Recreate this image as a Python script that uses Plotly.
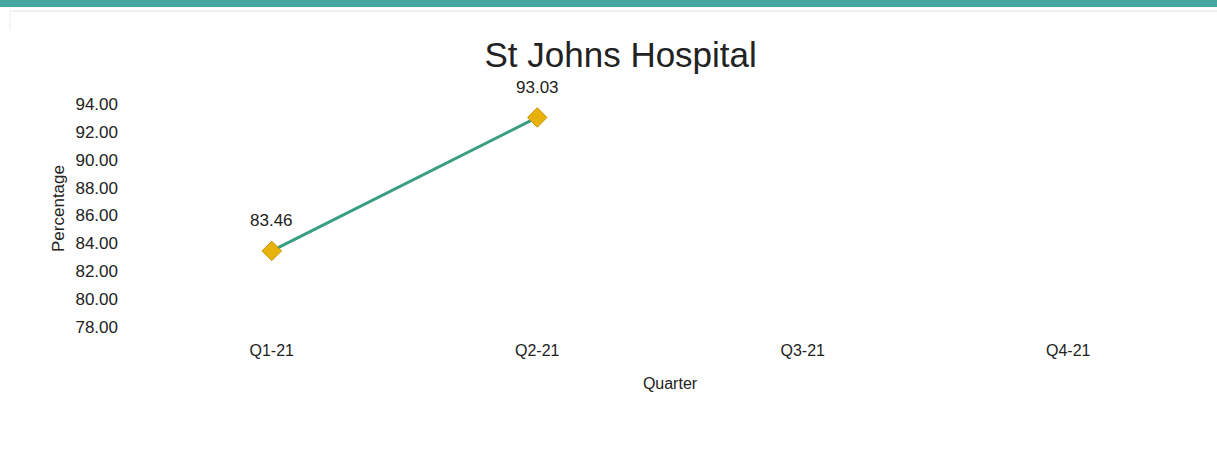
import plotly.graph_objects as go

quarters = ["Q1-21", "Q2-21", "Q3-21", "Q4-21"]
values = [83.46, 93.03, None, None]
title_text = "St Johns Hospital"

FONT = "Liberation Sans, Arial, sans-serif"

fig = go.Figure()
fig.add_trace(go.Scatter(
    x=quarters, y=values, mode="lines+markers",
    line=dict(color="#3a9e82", width=3),
    marker=dict(symbol="diamond", size=15, color="#e8b20c",
                line=dict(color="#c99400", width=1)),
    showlegend=False, connectgaps=False,
))

for q, v in zip(quarters, values):
    if v is not None:
        fig.add_annotation(x=q, y=v, text=f"{v:.2f}", showarrow=False,
                           yshift=30, font=dict(family=FONT, size=17, color="#222"))

PH = 251  # plot height in px
PW = 1062  # plot width in px
# teal header band
fig.add_shape(type="rect", xref="paper", yref="paper", x0=-139 / PW, x1=1 + 16 / PW,
              y0=1 + (83 - 7) / PH, y1=1 + 83 / PH, fillcolor="#45a7a0",
              line=dict(width=0), layer="below")
# thin frame lines
fig.add_shape(type="line", xref="paper", yref="paper", x0=(10 - 139) / PW, x1=1 + 16 / PW,
              y0=1 + (83 - 11) / PH, y1=1 + (83 - 11) / PH,
              line=dict(color="#e2e2e2", width=1))
fig.add_shape(type="line", xref="paper", yref="paper", x0=(10 - 139) / PW, x1=(10 - 139) / PW,
              y0=1 + (83 - 11) / PH, y1=1 + (83 - 30) / PH,
              line=dict(color="#ececec", width=1))

fig.update_layout(
    width=1217, height=450,
    margin=dict(l=139, r=16, t=83, b=116),
    paper_bgcolor="white", plot_bgcolor="white",
    font=dict(family=FONT, color="#222"),
    title=dict(text=title_text, x=0.51, xanchor="center", y=1 - 55 / 450,
               yanchor="middle", yref="container",
               font=dict(family=FONT, size=35, color="#222")),
    xaxis=dict(type="category", range=[-0.5, 3.5], showgrid=False, zeroline=False,
               showline=False, ticks="", tickfont=dict(size=16), ticklabelstandoff=5,
               title=dict(text="Quarter", font=dict(size=16), standoff=19)),
    yaxis=dict(range=[77.5, 95.5], tick0=78, dtick=2, tickformat=".2f",
               showgrid=False, zeroline=False, showline=False, ticks="",
               ticklabelstandoff=20, tickfont=dict(size=17),
               title=dict(text="Percentage", font=dict(size=17), standoff=6)),
)

fig.write_html("out.html", config={"displayModeBar": False},
               post_script="document.body.style.margin='0';document.body.style.overflow='hidden';")
